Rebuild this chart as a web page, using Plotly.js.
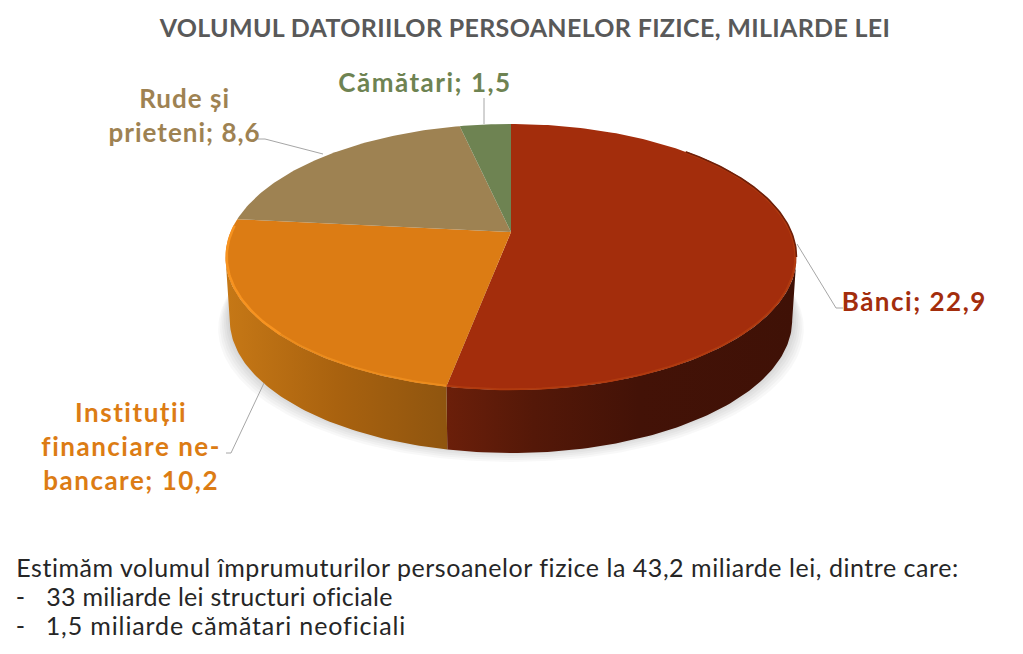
<!DOCTYPE html>
<html>
<head>
<meta charset="utf-8">
<script src="https://cdn.plot.ly/plotly-3.0.1.min.js"></script>
<style>
html,body{margin:0;padding:0;background:#fff}#chart{width:1023px;height:654px}
.annotation text{letter-spacing:.54px}
.annotation[data-index="0"] text,.annotation[data-index="1"] text,.annotation[data-index="3"] text{letter-spacing:1.5px}
.annotation[data-index="2"] text{letter-spacing:1px}
.annotation[data-index="6"] text{letter-spacing:.27px}
.annotation[data-index="8"] text{letter-spacing:.88px}
.gtitle{letter-spacing:.33px}
</style>
</head>
<body>
<div id="chart"></div>
<script>
const categories = ['Bănci', 'Instituții financiare ne-bancare', 'Rude și prieteni', 'Cămătari'];
const values = [22.9, 10.2, 8.6, 1.5];
const labelLines = [['Bănci; 22,9'], ['Instituții', 'financiare ne-', 'bancare; 10,2'], ['Rude și', 'prieteni; 8,6'], ['Cămătari; 1,5']];
const topColors = ['#A32D0C', '#DC7C14', '#9E8252', '#6E8352'];
const titleText = 'VOLUMUL DATORIILOR PERSOANELOR FIZICE, MILIARDE LEI';
const noteLines = ['Estimăm volumul împrumuturilor persoanelor fizice la 43,2 miliarde lei, dintre care:', '33 miliarde lei structuri oficiale', '1,5 miliarde cămătari neoficiali'];

const FONT = 'Lato, sans-serif';
const total = values.reduce((a, b) => a + b, 0);
// perspective projection of the pie disc, angle in degrees clockwise from top
const cx = 511, cy = 232, R = 280.4, B = 128.3, K = 0.188, DEPTH = 63, NARROW = 0.985;
const tangent = Math.acos(-K) * 180 / Math.PI;
function rimPoint(deg, r) {
  const t = deg * Math.PI / 180, u = Math.sin(t) * (r || 1), v = Math.cos(t) * (r || 1), w = 1 + K * v;
  return [cx + R * u / w, cy - B * v / w];
}
function basePoint(deg, grow, d) {
  const p = rimPoint(deg);
  return [cx + (p[0] - cx) * NARROW * (grow || 1), p[1] + DEPTH + (d || 0)];
}
function arc(a, b, fn) {
  const pts = [], n = Math.max(2, Math.ceil(Math.abs(b - a)));
  for (let i = 0; i <= n; i++) pts.push(fn(a + (b - a) * i / n));
  return pts;
}
function poly(pts, extra) {
  return Object.assign({
    type: 'scatter', mode: 'lines', x: pts.map(p => p[0]), y: pts.map(p => p[1]),
    fill: 'toself', line: {width: 0}, hoverinfo: 'skip', showlegend: false
  }, extra);
}
const starts = [], ends = [];
values.reduce((c, v) => { starts.push(c / total * 360); ends.push((c + v) / total * 360); return c + v; }, 0);

const traces = [];
// soft ground shadow
[12, 10, 8, 6, 4, 2].forEach(d => {
  const g = 1 + d / 290;
  const pts = arc(tangent - 25, 360 - tangent + 25, a => basePoint(a, g, d - 3));
  traces.push(poly(pts, {fillcolor: 'rgba(0,0,0,0.028)'}));
});
// side walls
traces.push(poly(arc(tangent, ends[0], a => rimPoint(a)).concat(arc(ends[0], tangent, a => basePoint(a))), {
  fillgradient: {type: 'horizontal', colorscale: [[0, '#6B1F0A'], [0.25, '#541808'], [0.55, '#431207'], [1, '#3F1106']]}
}));
traces.push(poly(arc(starts[1], 360 - tangent, a => rimPoint(a)).concat(arc(360 - tangent, starts[1], a => basePoint(a))), {
  fillgradient: {type: 'horizontal', colorscale: [[0, '#C67816'], [0.5, '#A9620F'], [1, '#8F550F']]}
}));
// top face
values.forEach((v, i) => {
  const pts = [[cx, cy]].concat(arc(starts[i], ends[i], a => rimPoint(a)), [[cx, cy]]);
  traces.push(poly(pts, {
    name: categories[i], fillcolor: topColors[i], hoveron: 'fills',
    text: categories[i] + '; ' + String(v).replace('.', ','), hoverinfo: 'text'
  }));
});
// bevelled rim
function rim(a, b, color, width, r) {
  const pts = arc(a, b, d => rimPoint(d, r));
  traces.push({type: 'scatter', mode: 'lines', x: pts.map(p => p[0]), y: pts.map(p => p[1]),
    line: {color: color, width: width}, hoverinfo: 'skip', showlegend: false});
}
rim(starts[1] + 35, ends[1] - 3, '#F79320', 2.5, 0.996);
rim(starts[1], starts[1] + 35, '#EC8C1D', 2, 0.996);
rim(starts[0] + 45, starts[1], '#B03A0F', 2, 0.996);
rim(tangent, starts[0] + 45, '#6F1F09', 1.6, 1);

function note(text, x, y, font) {
  return {text: text, x: x, y: y, xref: 'x', yref: 'y', xanchor: 'center', yanchor: 'middle',
    showarrow: false, align: 'center', font: font};
}
function labelFont(i) { return {family: FONT, size: 26, color: topColors[i], weight: 700}; }
const noteFont = {family: FONT, size: 25, color: '#262626'};
const annotations = [
  note(labelLines[0].join('<br>'), 914.5, 301, labelFont(0)),
  note(labelLines[1].join('<br>'), 131, 446, labelFont(1)),
  note(labelLines[2].join('<br>'), 184, 115, labelFont(2)),
  note(labelLines[3].join('<br>'), 425, 82, labelFont(3)),
  note(noteLines[0], 487, 567, noteFont),
  note('-', 20, 596, noteFont),
  note(noteLines[1], 219, 596, noteFont),
  note('-', 20, 625, noteFont),
  note(noteLines[2], 225.5, 625, noteFont)
];
const leader = p => ({type: 'path', path: p, xref: 'x', yref: 'y', line: {color: '#A6A6A6', width: 1}});
const shapes = [
  leader('M797,244 L836,308 L843,308'),
  leader('M323,154 L265,139 L258,139'),
  leader('M264,383 L231,453 L226,453'),
  leader('M484,98 L484,124')
];
Plotly.newPlot('chart', traces, {
  width: 1023, height: 654,
  margin: {l: 0, r: 0, t: 0, b: 0},
  paper_bgcolor: '#fff', plot_bgcolor: '#fff',
  title: {text: titleText, x: 525 / 1023, xanchor: 'center', y: 1 - 28 / 654, yanchor: 'middle',
    font: {family: FONT, size: 25, color: '#595959', weight: 700}},
  xaxis: {range: [0, 1023], visible: false, fixedrange: true},
  yaxis: {range: [654, 0], visible: false, fixedrange: true},
  showlegend: false, annotations: annotations, shapes: shapes
}, {displayModeBar: false, responsive: false});
</script>
</body>
</html>
